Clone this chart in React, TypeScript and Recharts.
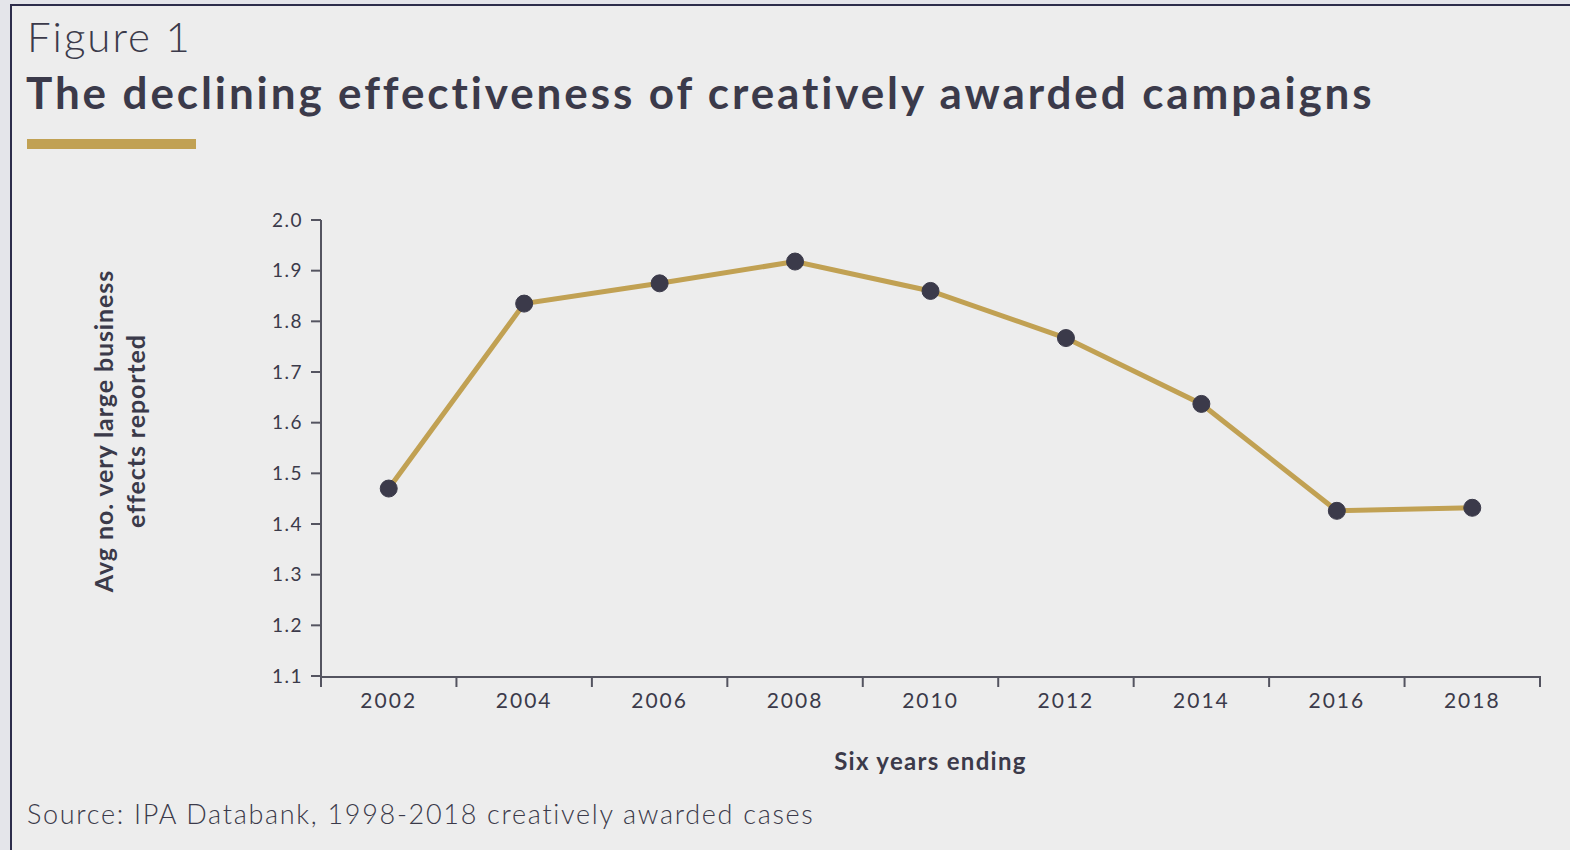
import { LineChart, Line, XAxis, YAxis } from "recharts";

const years = ["2002", "2004", "2006", "2008", "2010", "2012", "2014", "2016", "2018"];
const effects = [1.47, 1.835, 1.875, 1.918, 1.86, 1.767, 1.637, 1.426, 1.432];
const yTicks = [1.1, 1.2, 1.3, 1.4, 1.5, 1.6, 1.7, 1.8, 1.9, 2.0];

const gold = "#c1a153";
const ink = "#3b3a4a";
const axisGrey = "#545460";
const font = "Lato, 'Open Sans', sans-serif";

const chartData = years.map((year, i) => ({ idx: i, year, value: effects[i] }));
const centreTicks = years.map((_, i) => i);
const edgeTicks = [...years.map((_, i) => i - 0.5), years.length - 0.5];

const YLabel = ({ viewBox }: any) => {
  const cy = viewBox.y + viewBox.height / 2 - 17;
  return (
    <text
      transform={`translate(121, ${cy}) rotate(-90)`}
      textAnchor="middle"
      fill={ink}
      fontFamily={font}
      fontWeight={700}
      fontSize={25}
      letterSpacing={0.9}
    >
      <tspan x={0} dy={-8}>Avg no. very large business</tspan>
      <tspan x={0} dy={32}>effects reported</tspan>
    </text>
  );
};

// boundary tick marks between the year categories
const EdgeTick = () => <g />;

export default function App() {
  return (
    <div
      style={{
        position: "absolute",
        left: 0,
        top: 0,
        width: 1570,
        height: 850,
        background: "#e4e5ea",
        overflow: "hidden",
      }}
    >
      <div
        style={{
          position: "absolute",
          left: 10,
          top: 4,
          right: 0,
          bottom: 0,
          background: "#ededed",
          borderLeft: "2px solid #2d2d4b",
          borderTop: "2px solid #2d2d4b",
        }}
      />
      <div
        style={{
          position: "absolute",
          left: 27,
          top: 11,
          fontFamily: font,
          fontWeight: 300,
          fontSize: 42,
          letterSpacing: 2,
          color: ink,
          whiteSpace: "nowrap",
        }}
      >
        Figure 1
      </div>
      <div
        style={{
          position: "absolute",
          left: 26,
          top: 66,
          fontFamily: font,
          fontWeight: 700,
          fontSize: 44,
          letterSpacing: 2.9,
          color: ink,
          whiteSpace: "nowrap",
        }}
      >
        The declining effectiveness of creatively awarded campaigns
      </div>
      <div
        style={{
          position: "absolute",
          left: 27,
          top: 139,
          width: 169,
          height: 10,
          background: gold,
        }}
      />
      <div
        style={{
          position: "absolute",
          left: 27,
          top: 797,
          fontFamily: font,
          fontWeight: 300,
          fontSize: 27,
          letterSpacing: 1.7,
          color: ink,
          whiteSpace: "nowrap",
        }}
      >
        Source: IPA Databank, 1998-2018 creatively awarded cases
      </div>
      <div style={{ position: "absolute", left: 0, top: 0 }}>
        <LineChart
          width={1570}
          height={850}
          data={chartData}
          margin={{ top: 220, right: 30, bottom: 70, left: 0 }}
        >
          <XAxis
            xAxisId="edges"
            type="number"
            dataKey="idx"
            domain={[-0.5, years.length - 0.5]}
            ticks={edgeTicks}
            interval={0}
            tick={<EdgeTick />}
            axisLine={false}
            tickLine={{ stroke: axisGrey, strokeWidth: 2 }}
            tickSize={11}
            height={1}
          />
          <XAxis
            xAxisId="main"
            type="number"
            dataKey="idx"
            domain={[-0.5, years.length - 0.5]}
            ticks={centreTicks}
            interval={0}
            tickFormatter={(v: number) => years[v]}
            tickLine={false}
            tickSize={0}
            tickMargin={16}
            axisLine={{ stroke: axisGrey, strokeWidth: 2 }}
            tick={{ fill: ink, fontFamily: font, fontSize: 21, letterSpacing: 2 }}
            height={103}
            label={{
              value: "Six years ending",
              position: "insideBottom",
              offset: 10,
              fill: ink,
              fontFamily: font,
              fontWeight: 700,
              fontSize: 24,
              letterSpacing: 1.3,
            }}
          />
          <YAxis
            type="number"
            domain={[1.1, 2.0]}
            ticks={yTicks}
            interval={0}
            tickFormatter={(v: number) => v.toFixed(1)}
            width={321}
            tickSize={10}
            tickMargin={8}
            axisLine={{ stroke: axisGrey, strokeWidth: 2 }}
            tickLine={{ stroke: axisGrey, strokeWidth: 2 }}
            tick={{ fill: ink, fontFamily: font, fontSize: 19, letterSpacing: 1.5 }}
            label={<YLabel />}
          />
          <Line
            xAxisId="main"
            type="linear"
            dataKey="value"
            stroke={gold}
            strokeWidth={5}
            dot={{ r: 8.5, fill: ink, stroke: ink, strokeWidth: 1 }}
            activeDot={false}
            isAnimationActive={false}
          />
        </LineChart>
      </div>
    </div>
  );
}
